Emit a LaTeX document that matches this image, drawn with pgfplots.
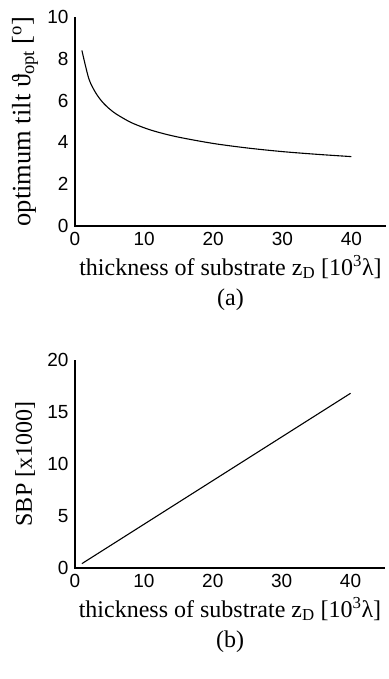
\documentclass[border=0pt]{standalone}
\usepackage{pgfplots}
\pgfplotsset{compat=1.18}
\usepackage{fontspec}
\setmainfont{Liberation Serif}
\newfontfamily\arial{Liberation Sans}
\begin{document}
\begin{tikzpicture}
\pgfplotsset{
  every axis/.style={
    scale only axis,
    axis lines=left,
    axis line style={line width=1.3pt,-},
    xmin=0, xmax=45,
    xtick={0,10,20,30,40},
    tick style={line width=0.4pt,black},
    major tick length=2pt,
    tick align=center,
    ticklabel style={font=\fontsize{19}{22}\selectfont\arial},
    /pgf/number format/assume math mode=true,
    xticklabel style={yshift=-2pt},
    yticklabel style={xshift=-2pt},
    label style={font=\fontsize{24}{28}\selectfont},
    xlabel style={at={(axis description cs:0.5,0)},anchor=center,yshift=-41pt},
    ylabel style={at={(axis description cs:-0.161,0.5)},anchor=center},
    clip=false,
  }
}
\path[use as bounding box] (0pt,0pt) rectangle (388pt,-679pt);
\begin{axis}[
  at={(75pt,-226pt)}, anchor=south west,
  width=311pt, height=209pt,
  ymin=0, ymax=10, ytick={0,2,4,6,8,10},
  xlabel={thickness of substrate z\textsubscript{D} [10\textsuperscript{3}λ]},
  ylabel={optimum tilt ϑ\textsubscript{opt} [\textsuperscript{o}]},
  ylabel style={font=\fontsize{26.5}{30}\selectfont},
]
\addplot[black, line width=1.1pt, smooth] coordinates {
(1,8.40) (2,7.05) (3,6.37) (4,5.92) (5,5.60) (6,5.35) (8,4.97) (10,4.70)
(12,4.49) (15,4.25) (20,3.95) (25,3.73) (30,3.56) (35,3.43) (40,3.32)
};
\node[font=\fontsize{24}{28}\selectfont] at (axis description cs:0.5,0) [yshift=-74pt] {(a)};
\end{axis}
\begin{axis}[
  at={(75pt,-568pt)}, anchor=south west,
  width=310pt, height=208pt,
  ymin=0, ymax=20, ytick={0,5,10,15,20},
  xlabel={thickness of substrate z\textsubscript{D} [10\textsuperscript{3}λ]},
  ylabel={SBP [x1000]},
]
\addplot[black, line width=1.1pt] coordinates {
(1,0.42) (10,4.2) (20,8.4) (30,12.6) (40,16.8)
};
\node[font=\fontsize{24}{28}\selectfont] at (axis description cs:0.5,0) [yshift=-74pt] {(b)};
\end{axis}
\end{tikzpicture}
\end{document}
